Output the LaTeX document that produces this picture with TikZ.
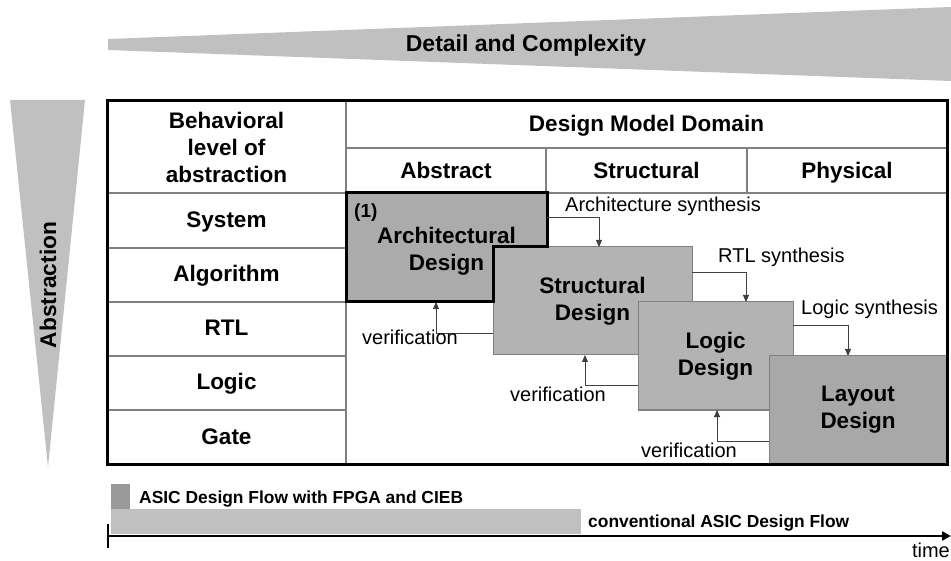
\documentclass[tikz,border=0pt]{standalone}
\usepackage{fontspec}
\setmainfont{Liberation Sans}
\usetikzlibrary{arrows.meta}

\definecolor{wedgegray}{HTML}{C0C0C0}
\definecolor{boxgray}{HTML}{B3B3B3}
\definecolor{archgray}{HTML}{ABABAB}
\definecolor{layoutgray}{HTML}{A8A8A8}
\definecolor{bardark}{HTML}{9A9A9A}
\definecolor{gridgray}{HTML}{808080}
\definecolor{connline}{HTML}{404040}

\begin{document}
\begin{tikzpicture}[x=1pt,y=-1pt,
  cellfont/.style={font=\fontsize{22.5}{27}\selectfont\bfseries},
  lbl/.style={font=\fontsize{20}{24}\selectfont, inner sep=0pt, anchor=base west},
  gridline/.style={draw=gridgray, line width=1.2pt},
  designbox/.style={draw=gridgray, line width=1pt, fill=boxgray, inner sep=0pt,
    outer sep=0pt, anchor=north west, align=center,
    font=\fontsize{22.5}{27}\selectfont\bfseries},
  conn/.style={draw=connline, line width=0.9pt, -{Triangle[length=7pt,width=6pt]}},
  wedgetext/.style={font=\fontsize{23}{27}\selectfont\bfseries, inner sep=0pt},
  flowtext/.style={font=\fontsize{17.4}{21}\selectfont\bfseries, inner sep=0pt, anchor=base west},
]
\useasboundingbox (0,0) rectangle (951,561);

% ---- wedges for the two axes of the chart ----
\fill[wedgegray] (108,39) -- (951,7) -- (951,81) -- (108,50) -- cycle;
\node[wedgetext, anchor=base] (detail) at (526,52) {Detail and Complexity};

\fill[wedgegray] (10,100) -- (85,100) -- (48,467) -- cycle;
\node[wedgetext, font=\fontsize{22.7}{27}\selectfont\bfseries, anchor=base, rotate=90] (abstr) at (56,285) {Abstraction};

% ---- table grid ----
\draw[gridline] (346,101) -- (346,464);
\foreach \yy in {193,248,302,356,410} \draw[gridline] (107,\yy) -- (346,\yy);
\draw[gridline] (346,148) -- (947,148);
\draw[gridline] (346,193) -- (947,193);
\draw[gridline] (546,148) -- (546,193);
\draw[gridline] (747,148) -- (747,193);

% ---- header texts ----
\node[cellfont, align=center] (hdrlevel) at (226.5,147) {Behavioral\\level of\\abstraction};
\node[cellfont, anchor=base] (hdrdomain) at (646.5,132) {Design Model Domain};
\node[cellfont, anchor=base] (hdrabs) at (446,179) {Abstract};
\node[cellfont, anchor=base] (hdrstr) at (646.5,179) {Structural};
\node[cellfont, anchor=base] (hdrphy) at (847,179) {Physical};

% ---- abstraction levels ----
\node[cellfont, anchor=base] (lvsys) at (226.5,228) {System};
\node[cellfont, anchor=base] (lvalg) at (226.5,282) {Algorithm};
\node[cellfont, anchor=base] (lvrtl) at (226.5,336) {RTL};
\node[cellfont, anchor=base] (lvlog) at (226.5,390) {Logic};
\node[cellfont, anchor=base] (lvgate) at (226.5,444) {Gate};

% ---- design stages ----
\node[designbox, fill=archgray, minimum width=201pt, minimum height=109pt] (arch) at (346,193) {};
\node[designbox, minimum width=199pt, minimum height=108pt] (struct) at (493,247)
  {Structural\\Design};
\node[designbox, minimum width=155pt, minimum height=108pt] (logic) at (638,302)
  {Logic\\Design};
\node[designbox, fill=layoutgray, minimum width=178pt, minimum height=108pt] (layout) at (769,356)
  {Layout\\Design};

% thick outline around the visible part of the first stage
\draw[line width=3pt, line join=miter] (arch.north west) -- (arch.north east)
  -- (arch.east |- struct.north) -- (struct.north west)
  -- (struct.west |- arch.south) -- (arch.south west) -- cycle;
\node[cellfont, align=center, inner sep=0pt] (archtxt) at ([yshift=-4pt]arch.center) {Architectural\\Design};
\node[font=\fontsize{19}{22}\selectfont\bfseries, inner sep=0pt, anchor=base west] (num) at (354,218) {(1)};

% ---- synthesis steps ----
\draw[conn] ([yshift=-24pt]arch.north east) -| ([xshift=106pt]struct.north west);
\draw[conn] ([yshift=-25pt]struct.north east) -| ([xshift=108pt]logic.north west);
\draw[conn] ([yshift=-23pt]logic.north east) -| ([xshift=79pt]layout.north west);
\node[lbl] (synA) at (565,212) {Architecture synthesis};
\node[lbl] (synR) at (718,263) {RTL synthesis};
\node[lbl] (synL) at (801,315) {Logic synthesis};

% ---- verification steps ----
\draw[conn] ([yshift=-86pt]struct.north west) -| ([xshift=90pt]arch.south west);
\draw[conn] ([yshift=-83pt]logic.north west) -| ([xshift=92pt]struct.south west);
\draw[conn] ([yshift=-85pt]layout.north west) -| ([xshift=79pt]logic.south west);
\node[lbl] (ver1) at (362,345) {verification};
\node[lbl] (ver2) at (510,402) {verification};
\node[lbl] (ver3) at (641,457) {verification};

% ---- table frame ----
\draw[line width=3pt] (107,101) rectangle (947,464);

% ---- time line ----
\fill[bardark] (111,484) rectangle (130,509);
\fill[wedgegray] (111,509) rectangle (581,534);
\node[flowtext] (fpga) at (139,503) {ASIC Design Flow with FPGA and CIEB};
\node[flowtext] (conv) at (588,527) {conventional ASIC Design Flow};
\coordinate (t0) at (108,536);
\coordinate (t1) at (951,536);
\draw[line width=2.5pt, -{Triangle[length=9pt,width=9pt]}] (t0) -- (t1);
\draw[line width=2.5pt] ([yshift=12pt]t0) -- ([yshift=-12pt]t0);
\node[font=\fontsize{20}{24}\selectfont, inner sep=0pt, anchor=base east] (time) at (950,557) {time};
\end{tikzpicture}
\end{document}
